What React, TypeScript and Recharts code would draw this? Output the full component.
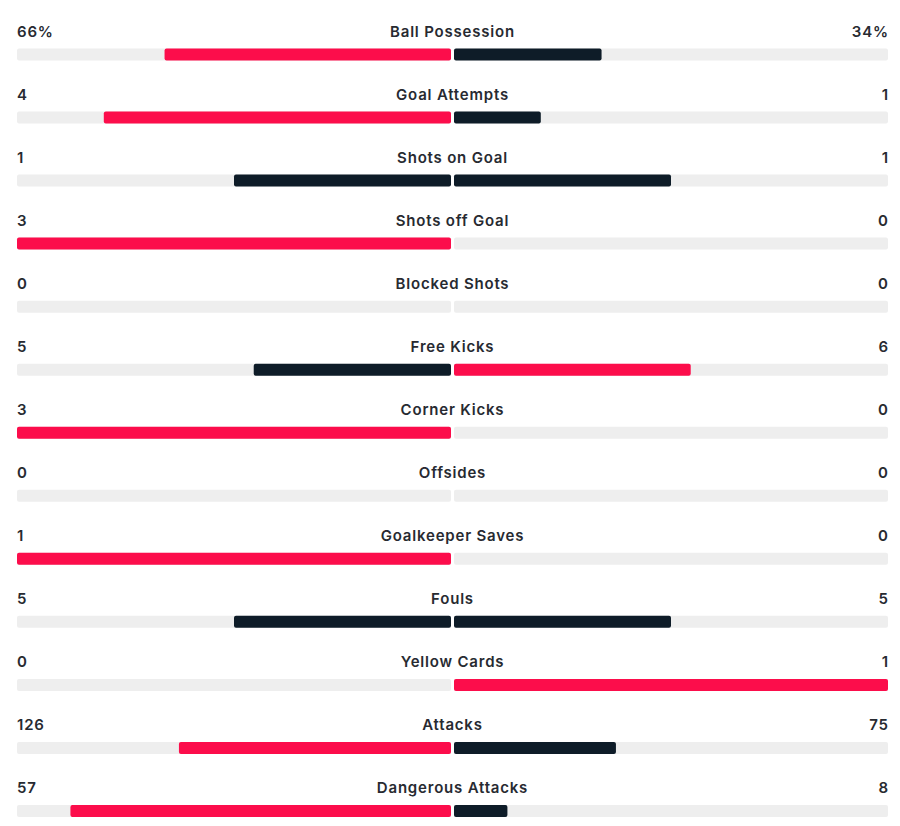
import React from 'react';
import { ComposedChart, Bar, XAxis, YAxis, Cell, LabelList } from 'recharts';

const statNames = [
  'Ball Possession',
  'Goal Attempts',
  'Shots on Goal',
  'Shots off Goal',
  'Blocked Shots',
  'Free Kicks',
  'Corner Kicks',
  'Offsides',
  'Goalkeeper Saves',
  'Fouls',
  'Yellow Cards',
  'Attacks',
  'Dangerous Attacks',
];
const homeValues = [66, 4, 1, 3, 0, 5, 3, 0, 1, 5, 0, 126, 57];
const awayValues = [34, 1, 1, 0, 0, 6, 0, 0, 0, 5, 1, 75, 8];
const valueUnits = ['%', '', '', '', '', '', '', '', '', '', '', '', ''];

const RED = '#fc0d4b';
const DARK = '#0e1c28';
const TRACK = '#eeeeee';
const TEXT = '#272a31';
const FONT = 'Inter, "Noto Sans", sans-serif';

const rows = statNames.map((name, i) => {
  const h = homeValues[i];
  const a = awayValues[i];
  const t = h + a;
  return {
    name,
    trackL: -1,
    trackR: 1,
    home: t ? -h / t : 0,
    away: t ? a / t : 0,
  };
});

const homeColor = (i: number) => (homeValues[i] > awayValues[i] ? RED : DARK);
const awayColor = (i: number) => (awayValues[i] > homeValues[i] ? RED : DARK);

const renderRowLabels = (props: any) => {
  const { x, y, width, value } = props;
  const i = statNames.indexOf(value);
  if (i < 0) return null;
  const baseY = y - 11.5;
  const leftEdge = x - 3 - width;
  const common = {
    fontFamily: FONT,
    fontSize: 15,
    fontWeight: 600,
    fill: TEXT,
    letterSpacing: 0.8,
  };
  return (
    <g>
      <text x={leftEdge} y={baseY} textAnchor="start" {...common}>
        {`${homeValues[i]}${valueUnits[i]}`}
      </text>
      <text x={x - 1.5} y={baseY} textAnchor="middle" {...common}>
        {statNames[i]}
      </text>
      <text x={x + width + 0.8} y={baseY} textAnchor="end" {...common}>
        {`${awayValues[i]}${valueUnits[i]}`}
      </text>
    </g>
  );
};

export default function App() {
  return (
    <div
      style={{
        position: 'absolute',
        left: 0,
        top: 0,
        width: 900,
        height: 826,
        overflow: 'hidden',
        background: '#ffffff',
      }}
    >
      <ComposedChart
        layout="vertical"
        width={900}
        height={842}
        data={rows}
        margin={{ top: 22.5, right: 12, bottom: 0, left: 17 }}
        barGap={-12}
        barCategoryGap={0}
      >
        <XAxis xAxisId="L" type="number" domain={[-1, 0]} hide padding={{ left: 0, right: 437 }} />
        <XAxis xAxisId="R" type="number" domain={[0, 1]} hide padding={{ left: 437, right: 0 }} />
        <YAxis type="category" dataKey="name" hide />
        <Bar xAxisId="L" dataKey="trackL" fill={TRACK} barSize={12} radius={2} isAnimationActive={false} />
        <Bar xAxisId="L" dataKey="home" barSize={12} radius={2} isAnimationActive={false}>
          {rows.map((r, i) => (
            <Cell key={r.name} fill={homeColor(i)} />
          ))}
        </Bar>
        <Bar xAxisId="R" dataKey="trackR" fill={TRACK} barSize={12} radius={2} isAnimationActive={false}>
          <LabelList dataKey="name" content={renderRowLabels} />
        </Bar>
        <Bar xAxisId="R" dataKey="away" barSize={12} radius={2} isAnimationActive={false}>
          {rows.map((r, i) => (
            <Cell key={r.name} fill={awayColor(i)} />
          ))}
        </Bar>
      </ComposedChart>
    </div>
  );
}
